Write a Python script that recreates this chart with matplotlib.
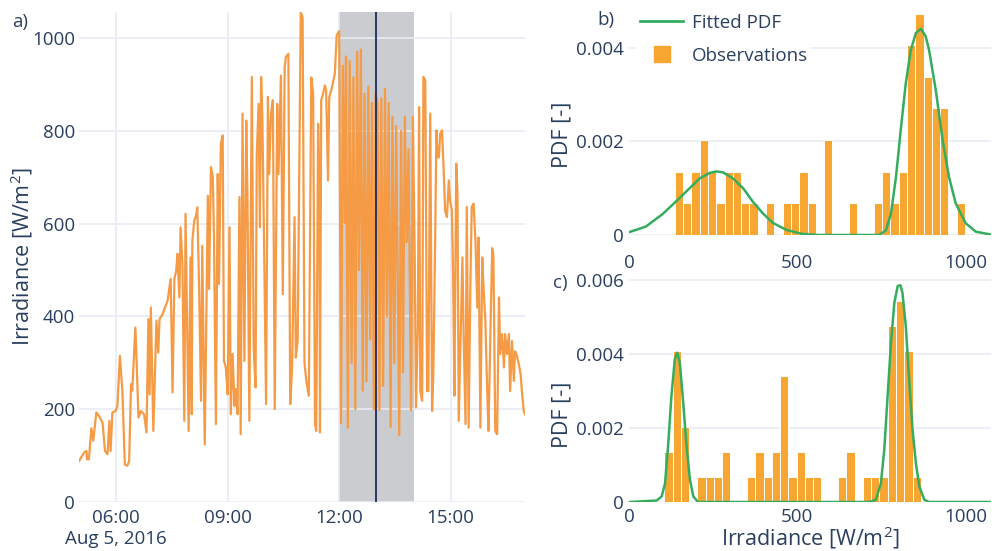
import matplotlib
matplotlib.use("Agg")
import matplotlib.pyplot as plt
from matplotlib.lines import Line2D
import numpy as np
import datetime as dt

# ---------------- data ----------------
start_time = dt.datetime(2016, 8, 5, 5, 0)
date_label = 'Aug 5, 2016'
minutes = [0, 8, 12, 13, 16, 20, 23, 28, 32, 38, 42, 46, 49, 51, 54, 59, 62, 66, 70, 74, 78, 81, 84, 86,
           91, 93, 96, 100, 105, 109, 112, 114, 116, 120, 125, 128, 130, 135, 143, 148, 151, 154, 157,
           159, 162, 164, 167, 170, 172, 177, 180, 182,
           183, 186, 189, 191, 194, 197, 199, 203, 208, 210, 213, 216, 218, 221, 224, 226, 229, 232, 234,
           237, 240, 243, 245, 248, 251, 253, 256, 259, 261, 264, 267, 270, 272, 275, 279, 282, 285, 287,
           290, 292, 294, 296, 299, 302, 305, 307, 310, 313, 316, 320, 322, 326, 329, 332, 334, 338, 341,
           344, 348, 350, 353, 356, 358, 361,
           364, 367, 371, 375, 378, 381, 383, 386, 388, 389, 391, 394, 397, 399, 402, 404, 408, 413, 416,
           420, 423, 426, 429, 431, 434, 437, 440, 443, 446, 449, 452, 455, 458, 461, 464, 467, 470, 473,
           476, 479, 482, 485, 488, 491, 494, 497, 500, 503, 506, 509, 512, 515, 517, 520, 523, 526, 529,
           532, 536, 539, 542,
           544, 547, 549, 551, 554, 556, 559, 562, 564, 567, 570, 572, 575, 577, 579, 581, 583, 586, 589,
           591, 594, 597, 599, 602, 604, 606, 609, 611, 613, 616, 619, 621, 624, 626, 629, 632, 634, 637,
           640, 643, 645, 648, 651, 653, 656, 659, 661, 664, 667, 669, 672, 675, 678, 680, 683, 686, 688,
           691, 694, 696, 699, 702, 704, 707, 710, 713, 715, 718, 720]
irradiance = [88, 106, 110, 92, 92, 159, 132, 193, 186, 171, 110, 103, 175, 110, 193, 196, 207, 315, 240, 81,
              78, 88, 254, 240, 376, 304, 182, 196, 189, 150, 394, 232, 419, 153, 391, 322, 394, 405, 434,
              481, 236, 481, 499, 535, 441, 592, 513, 175, 621, 153, 527, 189,
              563, 606, 617, 635, 455, 218, 552, 124, 660, 459, 722, 700, 563, 168, 707, 470, 772, 790, 304,
              290, 232, 592, 189, 319, 207, 243, 189, 657, 146, 837, 304, 822, 657, 175, 916, 333, 247, 750,
              858, 592, 916, 829, 535, 211, 873, 707, 837, 866, 200, 858, 707, 919, 448, 937, 959, 966, 211,
              290, 614, 311, 347, 758, 1055, 1044,
              300, 261, 229, 915, 880, 168, 153, 815, 690, 150, 866, 880, 898, 887, 693, 873, 891, 923, 1006,
              1015, 170, 940, 600, 960, 160, 950, 300, 915, 200, 970, 500, 975, 240, 880, 260, 895, 350, 860,
              200, 880, 860, 198, 870, 250, 890, 400, 860, 162, 830, 300, 810, 420, 144, 800, 280, 830, 560,
              760, 198, 830, 527,
              204, 376, 851, 239, 218, 916, 909, 239, 239, 837, 196, 275, 570, 801, 743, 743, 793, 801, 707,
              628, 614, 693, 650, 628, 484, 229, 729, 665, 175, 347, 527, 354, 168, 636, 160, 484, 636, 643,
              563, 419, 570, 160, 527, 463, 391, 239, 153, 347, 547, 532, 153, 146, 441, 319, 362, 290, 362,
              319, 362, 239, 347, 261, 325, 315, 297, 275, 239, 196, 189]

window_start_h = 12
window_end_h = 14
selected_h = 13

# histogram b (window containing the selected time)
hist_b_first_edge = 136.0
hist_b_bin_width = 24.63
hist_b_counts = [2, 1, 2, 3, 2, 1, 2, 2, 1, 1, 0, 1, 0, 1, 1, 2, 1, 0, 3, 0, 0, 1, 0, 0, 1, 2, 1, 2,
                 6, 7, 5, 4, 4, 0, 1]
pdf_b_x = [0, 50, 100, 140, 180, 210, 240, 260, 279, 309, 339, 368, 398, 427, 467, 516, 566, 664, 743,
           763, 778, 793, 807, 822, 837, 852, 867, 881, 891, 911, 931, 950, 970, 1000, 1030, 1075]
pdf_b_y = [0.00006, 0.00018, 0.00045, 0.00072, 0.00100, 0.00121, 0.00133, 0.00136, 0.00134, 0.00121,
           0.00100, 0.00071, 0.00046, 0.00026, 0.00011, 0.00002, 0.0, 0.0, 0.0, 0.0001, 0.00046, 0.00125,
           0.00225, 0.00325, 0.00396, 0.00432, 0.00441, 0.00425, 0.00396, 0.0031, 0.00204, 0.00125,
           0.00068, 0.00025, 0.00007, 0.00001]

# histogram c
hist_c_first_edge = 104.6
hist_c_bin_width = 24.58
hist_c_counts = [2, 6, 3, 0, 1, 1, 1, 2, 0, 0, 1, 2, 1, 2, 5, 1, 2, 1, 1, 0, 0, 1, 2, 0, 1, 1, 1, 7, 8, 6, 1]
pdf_c_x = [0, 82, 97, 107, 116, 126, 136, 143, 151, 161, 171, 181, 191, 205, 714, 733, 748, 758, 768, 778,
           788, 798, 806, 812, 822, 832, 842, 852, 862, 877, 891, 1075]
pdf_c_y = [0.0, 0.00004, 0.00015, 0.0005, 0.0015, 0.00286, 0.00385, 0.00403, 0.00376, 0.00268, 0.0015,
           0.0006, 0.00015, 0.0, 0.0, 0.00006, 0.0005, 0.0014, 0.00286, 0.0043, 0.00538, 0.00583, 0.00585,
           0.00565, 0.00475, 0.0033, 0.00195, 0.00105, 0.00042, 0.00006, 0.0, 0.0]

# ---------------- style ----------------
plt.rcParams['font.family'] = ['Open Sans', 'DejaVu Sans']
plt.rcParams['mathtext.fontset'] = 'custom'
plt.rcParams['mathtext.rm'] = 'Open Sans'
plt.rcParams['mathtext.it'] = 'Open Sans'
TXT = '#2a3f5f'
GRID = '#e8ecf3'
ORANGE_LINE = '#f59a45'
ORANGE_BAR = '#f7a632'
GREEN = '#36ad5e'
TICK_FS = 13.5
TITLE_FS = 15.5

W, H = 992, 551
fig = plt.figure(figsize=(W / 100, H / 100), dpi=100)


def axes_px(x0, y0, x1, y1):
    return fig.add_axes([x0 / W, 1 - y1 / H, (x1 - x0) / W, (y1 - y0) / H])


def style(ax):
    for s in ax.spines.values():
        s.set_visible(False)
    ax.tick_params(length=0, labelsize=TICK_FS, colors=TXT)
    ax.set_axisbelow(True)


# ---------------- panel a ----------------
ax = axes_px(79, 12, 525, 502)
style(ax)
times = [start_time + dt.timedelta(minutes=m) for m in minutes]
day = start_time.replace(hour=0)
ax.axvspan(day + dt.timedelta(hours=window_start_h), day + dt.timedelta(hours=window_end_h),
           color='#cbcccf', zorder=0.2, lw=0)
ax.grid(True, color=GRID, lw=1.2, zorder=0.5)
ax.plot(times, irradiance, color=ORANGE_LINE, lw=1.6, zorder=2)
ax.axvline(day + dt.timedelta(hours=selected_h), color='#1d2a5c', lw=1.3, zorder=3)
ax.set_xlim(start_time, start_time + dt.timedelta(hours=12))
ax.set_ylim(0, 1056)
ax.set_yticks([0, 200, 400, 600, 800, 1000])
xt = [day + dt.timedelta(hours=h) for h in (6, 9, 12, 15)]
ax.set_xticks(xt)
ax.set_xticklabels([t.strftime('%H:%M') for t in xt])
ax.tick_params(axis='x', pad=5)
ax.tick_params(axis='y', pad=3)
fig.text(116 / W, 1 - 539 / H, date_label, ha='center', va='center', fontsize=TICK_FS, color=TXT)
fig.text(22 / W, 1 - 257 / H, 'Irradiance [W/m$^{2}$]', rotation=90, ha='center', va='center',
         fontsize=TITLE_FS, color=TXT)
fig.text(12 / W, 1 - 22 / H, 'a)', ha='left', va='center', fontsize=TICK_FS, color=TXT)

# ---------------- panel b ----------------
axb = axes_px(629, 12, 991, 235)
style(axb)
axb.grid(True, axis='y', color=GRID, lw=1.2)
nb = sum(hist_b_counts)
edges_b = hist_b_first_edge + hist_b_bin_width * np.arange(len(hist_b_counts))
dens_b = np.array(hist_b_counts) / (nb * hist_b_bin_width)
axb.bar(edges_b, dens_b, width=hist_b_bin_width, align='edge', color=ORANGE_BAR,
        edgecolor='white', linewidth=0.7, zorder=2)
axb.plot(pdf_b_x, pdf_b_y, color=GREEN, lw=1.8, zorder=3)
axb.set_xlim(0, 1075)
axb.set_ylim(0, 0.00477)
axb.set_yticks([0, 0.002, 0.004])
axb.set_yticklabels(['0', '0.002', '0.004'])
axb.set_xticks([0, 500, 1000])
axb.tick_params(axis='x', pad=14)
axb.tick_params(axis='y', pad=4)
fig.text(562 / W, 1 - 135 / H, 'PDF [-]', rotation=90, ha='center', va='center',
         fontsize=TITLE_FS, color=TXT)
fig.text(597 / W, 1 - 20 / H, 'b)', ha='left', va='center', fontsize=TICK_FS, color=TXT)
handles = [Line2D([0], [0], color=GREEN, lw=2),
           Line2D([0], [0], color=ORANGE_BAR, marker='s', markersize=12, linestyle='none')]
leg = axb.legend(handles, ['Fitted PDF', 'Observations'], loc='upper left',
                 bbox_to_anchor=(0.02, 1.01), frameon=True, fontsize=TICK_FS, handlelength=2.3,
                 handletextpad=0.45, labelspacing=0.8, borderpad=0.2, borderaxespad=0)
leg.get_frame().set_facecolor('white')
leg.get_frame().set_edgecolor('none')
leg.get_frame().set_alpha(1)
for t in leg.get_texts():
    t.set_color(TXT)

# ---------------- panel c ----------------
axc = axes_px(629, 276, 991, 502)
style(axc)
axc.grid(True, axis='y', color=GRID, lw=1.2)
nc = sum(hist_c_counts)
edges_c = hist_c_first_edge + hist_c_bin_width * np.arange(len(hist_c_counts))
dens_c = np.array(hist_c_counts) / (nc * hist_c_bin_width)
axc.bar(edges_c, dens_c, width=hist_c_bin_width, align='edge', color=ORANGE_BAR,
        edgecolor='white', linewidth=0.7, zorder=2)
axc.plot(pdf_c_x, pdf_c_y, color=GREEN, lw=1.8, zorder=3)
axc.set_xlim(0, 1075)
axc.set_ylim(0, 0.0061)
axc.set_yticks([0, 0.002, 0.004, 0.006])
axc.set_yticklabels(['0', '0.002', '0.004', '0.006'])
axc.set_xticks([0, 500, 1000])
axc.tick_params(axis='x', pad=4)
axc.tick_params(axis='y', pad=4)
fig.text(562 / W, 1 - 415 / H, 'PDF [-]', rotation=90, ha='center', va='center',
         fontsize=TITLE_FS, color=TXT)
fig.text(553 / W, 1 - 283 / H, 'c)', ha='left', va='center', fontsize=TICK_FS, color=TXT)
fig.text(810 / W, 1 - 538 / H, 'Irradiance [W/m$^{2}$]', ha='center', va='center',
         fontsize=TITLE_FS, color=TXT)

fig.savefig('out.png', dpi=100)
